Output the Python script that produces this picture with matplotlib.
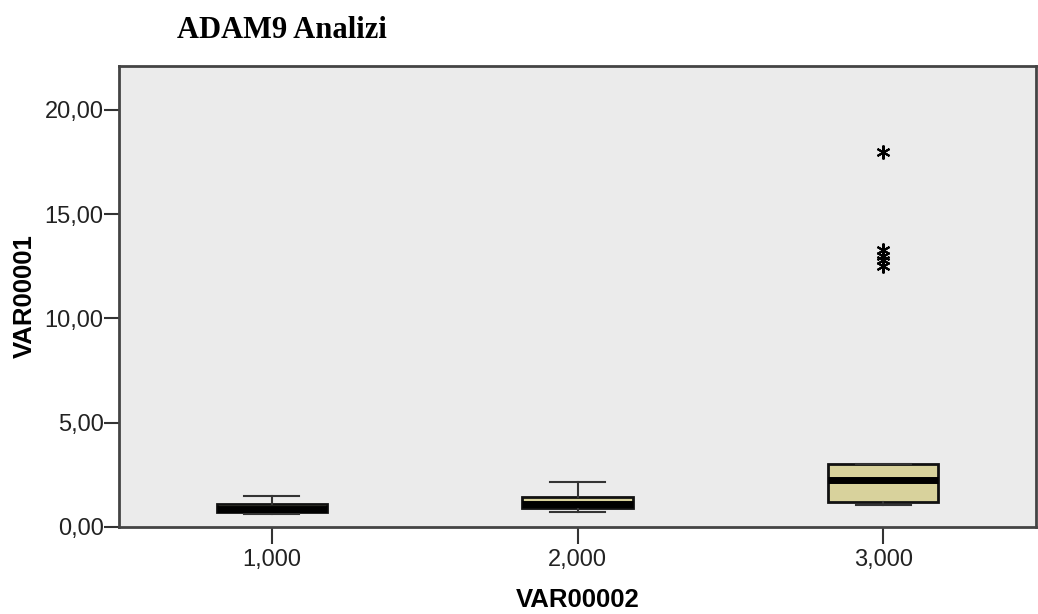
import matplotlib
matplotlib.use("Agg")
import matplotlib.pyplot as plt

groups = [1, 2, 3]
group_labels = ["1,000", "2,000", "3,000"]
q1 = [0.72, 0.91, 1.20]
median = [0.85, 1.10, 2.25]
q3 = [1.10, 1.44, 3.02]
whisker_low = [0.62, 0.72, 1.06]
whisker_high = [1.49, 2.16, 3.02]
outliers = [[], [], [18.0, 13.3, 13.0, 12.8, 12.5]]
y_ticks = [0, 5, 10, 15, 20]
y_tick_labels = ["0,00", "5,00", "10,00", "15,00", "20,00"]

stats = []
for i in range(len(groups)):
    stats.append({"med": median[i], "q1": q1[i], "q3": q3[i],
                  "whislo": whisker_low[i], "whishi": whisker_high[i],
                  "fliers": outliers[i]})

fig = plt.figure(figsize=(10.38, 6.14), dpi=100)
ax = fig.add_axes([119 / 1038, (614 - 527) / 614, (1036 - 119) / 1038, (527 - 66) / 614])
ax.set_facecolor("#ebebeb")

ax.bxp(stats, positions=groups, widths=0.36, patch_artist=True,
       boxprops=dict(facecolor="#d8d29c", edgecolor="#111111", linewidth=2),
       medianprops=dict(color="black", linewidth=5),
       whiskerprops=dict(color="#333333", linewidth=1.5),
       capprops=dict(color="#333333", linewidth=1.5),
       capwidths=0.18,
       flierprops=dict(marker=(6, 2, 0), markersize=10, markeredgecolor="black",
                       markeredgewidth=1.5, linestyle="none"))

ax.set_xlim(0.5, 3.5)
ax.set_ylim(0, 22.1)
ax.set_xticks(groups)
ax.set_xticklabels(group_labels, fontsize=17, family="Liberation Sans", color="#222222")
ax.set_yticks(y_ticks)
ax.set_yticklabels(y_tick_labels, fontsize=17, family="Liberation Sans", color="#222222")
ax.tick_params(axis="x", length=12, width=1.5, pad=4, color="#333333")
ax.tick_params(axis="y", length=11, width=1.5, pad=0, color="#333333")

for s in ax.spines.values():
    s.set_color("#444444")
    s.set_linewidth(2)

ax.set_xlabel("VAR00002", fontsize=18.5, fontweight="bold", family="Liberation Sans", labelpad=12)
ax.set_ylabel("VAR00001", fontsize=18.5, fontweight="bold", family="Liberation Sans", labelpad=6)

fig.text(177 / 1038, 1 - 30 / 614, "ADAM9 Analizi", fontsize=22, fontweight="bold",
         family="Liberation Serif", ha="left", va="center")

fig.savefig("out.png", dpi=100)
